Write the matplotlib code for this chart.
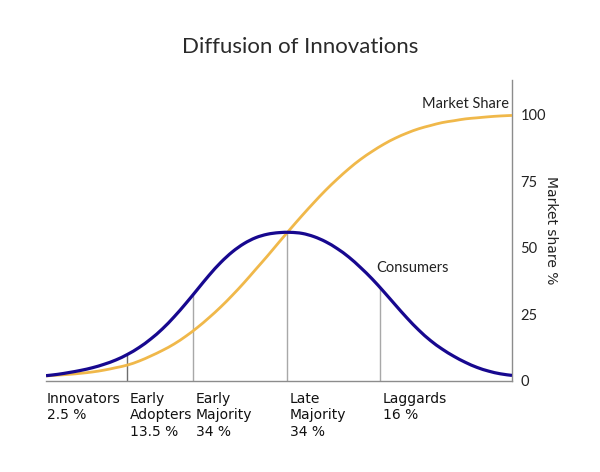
import numpy as np
import matplotlib
matplotlib.use("Agg")
import matplotlib.pyplot as plt
import matplotlib.transforms as mtransforms
from matplotlib.path import Path
from matplotlib.patches import PathPatch

# position along the adoption axis (0..100), sampled every 2.5
x = np.arange(0, 100.1, 2.5)

consumers = [2.0, 2.5, 3.2, 4.0, 5.0, 6.3, 7.9, 10.0, 12.6, 15.8, 19.6,
             24.1, 29.1, 34.4, 39.7, 44.5, 48.5, 51.6, 53.8, 55.1, 55.7,
             55.8, 55.4, 54.2, 52.3, 49.7, 46.5, 42.6, 38.3, 33.5, 28.5,
             23.6, 19.1, 15.2, 12.0, 9.3, 7.0, 5.1, 3.7, 2.7, 2.1]

market_share = [1.9, 2.2, 2.5, 2.9, 3.4, 4.1, 5.0, 6.0, 7.5, 9.4, 11.5,
                13.9, 16.8, 20.1, 23.8, 27.8, 32.2, 36.9, 41.9, 46.9, 52.1,
                57.2, 62.2, 67.0, 71.6, 75.8, 79.7, 83.2, 86.2, 88.9, 91.2,
                93.1, 94.7, 95.9, 97.0, 97.7, 98.4, 98.8, 99.2, 99.5, 99.7]

boundaries = [17.4, 31.5, 51.7, 71.7]
groups = ["Innovators\n2.5 %", "Early\nAdopters\n13.5 %", "Early\nMajority\n34 %",
          "Late\nMajority\n34 %", "Laggards\n16 %"]
yticks = [0, 25, 50, 75, 100]

blue = "#17088f"
gold = "#f0b84a"
grey = "#8c8c8c"


def smooth_path(xs, ys):
    # Catmull-Rom through the sampled points, drawn as cubic Bezier segments
    p = np.column_stack([xs, ys]).astype(float)
    verts = [p[0]]
    codes = [Path.MOVETO]
    for i in range(len(p) - 1):
        p0 = p[i - 1] if i > 0 else p[i]
        p3 = p[i + 2] if i + 2 < len(p) else p[i + 1]
        c1 = p[i] + (p[i + 1] - p0) / 6
        c2 = p[i + 1] - (p3 - p[i]) / 6
        verts += [c1, c2, p[i + 1]]
        codes += [Path.CURVE4] * 3
    return Path(verts, codes)


fig = plt.figure(figsize=(6, 4.72), dpi=100)
ax = fig.add_axes([0.0767, 0.1928, 0.7766, 0.6377])

ax.add_patch(PathPatch(smooth_path(x, market_share), fill=False, edgecolor=gold,
                       lw=2.0, capstyle="butt", zorder=3))
ax.add_patch(PathPatch(smooth_path(x, consumers), fill=False, edgecolor=blue,
                       lw=2.3, capstyle="butt", zorder=4))

heights = np.interp(boundaries, x, consumers)
for i, (b, h) in enumerate(zip(boundaries, heights)):
    ax.vlines(b, 0, h, color="#6e6e6e" if i == 0 else "#a8a8a8", lw=1.0, zorder=2)

ax.set_xlim(0, 100)
ax.set_ylim(0, 113)
ax.set_xticks([])
ax.yaxis.tick_right()
ax.set_yticks(yticks)
ax.tick_params(axis="y", length=0, pad=6)
for lab in ax.get_yticklabels():
    lab.set_family("Lato")
    lab.set_fontsize(10.5)
    lab.set_color("#222222")

for s in ["top", "left"]:
    ax.spines[s].set_visible(False)
for s in ["right", "bottom"]:
    ax.spines[s].set_color(grey)
    ax.spines[s].set_linewidth(1.0)

ax.yaxis.set_label_position("right")
ax.set_ylabel("Market share %", rotation=-90, fontsize=10, labelpad=9, color="#222222")

trans = mtransforms.blended_transform_factory(ax.transData, ax.transAxes)
label_x = [0.2] + [b + 0.6 for b in boundaries]
for lx, g in zip(label_x, groups):
    ax.text(lx, -0.035, g, transform=trans, ha="left", va="top", fontsize=10,
            linespacing=1.25, color="#111111")

ax.text(99.3, 104, "Market Share", ha="right", va="center", family="Lato",
        fontsize=10.5, color="#222222")
ax.text(70.9, 42.5, "Consumers", ha="left", va="center", family="Lato",
        fontsize=10.5, color="#222222")

fig.text(0.5, 0.9, "Diffusion of Innovations", ha="center", va="center",
         family="Lato", fontsize=16, color="#2a2a2a")

fig.savefig("out.png", dpi=100)
